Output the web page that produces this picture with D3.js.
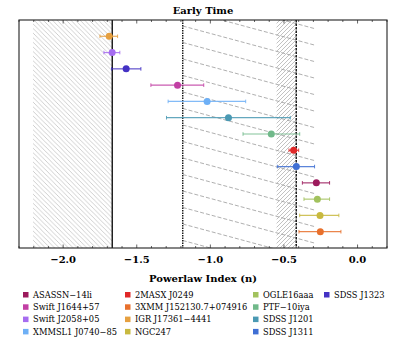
<!DOCTYPE html>
<html>
<head>
<meta charset="utf-8">
<script src="https://cdn.jsdelivr.net/npm/d3@7"></script>
<style>
  body { margin: 0; background: #fff; }
  text { font-family: "DejaVu Serif", "Liberation Serif", serif; }
</style>
</head>
<body>
<div id="vis"></div>
<script>
// sources, top to bottom
const names = ['IGR J17361\u22124441', 'Swift J2058+05', 'SDSS J1323', 'Swift J1644+57',
  'XMMSL1 J0740\u221285', 'SDSS J1201', 'PTF\u221210iya', '2MASX J0249', 'SDSS J1311',
  'ASASSN\u221214li', 'OGLE16aaa', 'NGC247', '3XMM J152130.7+074916']
const index = [-1.687, -1.667, -1.572, -1.223, -1.022, -0.877, -0.586, -0.434, -0.416, -0.280, -0.273, -0.255, -0.253]
const errLow = [-1.750, -1.723, -1.671, -1.404, -1.287, -1.298, -0.778, -0.466, -0.545, -0.375, -0.364, -0.393, -0.398]
const errHigh = [-1.630, -1.615, -1.472, -1.045, -0.760, -0.457, -0.393, -0.400, -0.292, -0.190, -0.190, -0.127, -0.113]
const colors = ['#e6a040', '#a66cf0', '#4432c4', '#c23fa4', '#6eb0f6', '#4a99b3', '#70b98a', '#e02828',
  '#3f6fd4', '#9c1a5c', '#a2c25e', '#c8b93f', '#e8702c']

// legend order (column-major, 4 rows)
const legendNames = ['ASASSN\u221214li', 'Swift J1644+57', 'Swift J2058+05', 'XMMSL1 J0740\u221285',
  '2MASX J0249', '3XMM J152130.7+074916', 'IGR J17361\u22124441', 'NGC247',
  'OGLE16aaa', 'PTF\u221210iya', 'SDSS J1201', 'SDSS J1311', 'SDSS J1323']

// reference lines and shaded ranges
const solidLine = -5 / 3
const dottedLine = -1.1875
const dashedLine = -0.4167
const hatchA = [-2.205, -5 / 3]
const hatchB = [-1.1875, -0.292]
const hatchC = [-0.55, -0.4167]
const majorTicks = [-2.0, -1.5, -1.0, -0.5, 0.0]

const W = 407, H = 341
const m = { left: 19, right: 387, top: 20, bottom: 248 }

const x = d3.scaleLinear().domain([-2.3, 0.2]).range([m.left, m.right])
const y = d3.scaleLinear().domain([0, names.length + 1]).range([m.top, m.bottom])

const svg = d3.select('#vis').append('svg')
  .attr('width', W)
  .attr('height', H)

const defs = svg.append('defs')
defs.append('clipPath').attr('id', 'plot')
  .append('rect')
  .attr('x', m.left).attr('y', m.top)
  .attr('width', m.right - m.left).attr('height', m.bottom - m.top)

const patA = defs.append('pattern').attr('id', 'hatchA')
  .attr('patternUnits', 'userSpaceOnUse')
  .attr('width', 4.6).attr('height', 4.6)
patA.append('path')
  .attr('d', 'M-1,-1 L5.6,5.6 M-1,3.6 L1,5.6 M3.6,-1 L5.6,1')
  .attr('stroke', '#b0b0b0').attr('stroke-width', 0.6)

const patC = defs.append('pattern').attr('id', 'hatchC')
  .attr('patternUnits', 'userSpaceOnUse')
  .attr('width', 4).attr('height', 4)
patC.append('path')
  .attr('d', 'M-1,5 L5,-1 M-1,1 L1,-1 M3,5 L5,3')
  .attr('stroke', '#999').attr('stroke-width', 0.6)

const plot = svg.append('g').attr('clip-path', 'url(#plot)')

plot.append('rect')
  .attr('x', x(hatchA[0])).attr('y', m.top)
  .attr('width', x(hatchA[1]) - x(hatchA[0])).attr('height', m.bottom - m.top)
  .attr('fill', 'url(#hatchA)')

// shallow dashed hatch
const gB = plot.append('g')
const bx0 = x(hatchB[0]), bx1 = x(hatchB[1])
const slope = 0.27
for (let yy = m.top - 60; yy < m.bottom + 5; yy += 16.5) {
  gB.append('line')
    .attr('x1', bx0).attr('y1', yy)
    .attr('x2', bx1).attr('y2', yy + slope * (bx1 - bx0))
    .attr('stroke', '#9a9a9a')
    .attr('stroke-width', 0.8)
    .attr('stroke-dasharray', '4,2')
}

plot.append('rect')
  .attr('x', x(hatchC[0])).attr('y', m.top)
  .attr('width', x(hatchC[1]) - x(hatchC[0])).attr('height', m.bottom - m.top)
  .attr('fill', 'url(#hatchC)')

plot.append('line')
  .attr('x1', x(solidLine)).attr('x2', x(solidLine))
  .attr('y1', m.top).attr('y2', m.bottom)
  .attr('stroke', '#000').attr('stroke-width', 1.3)
plot.append('line')
  .attr('x1', x(dottedLine)).attr('x2', x(dottedLine))
  .attr('y1', m.top).attr('y2', m.bottom)
  .attr('stroke', '#000').attr('stroke-width', 1.3)
  .attr('stroke-dasharray', '1.5,1')
plot.append('line')
  .attr('x1', x(dashedLine)).attr('x2', x(dashedLine))
  .attr('y1', m.top).attr('y2', m.bottom)
  .attr('stroke', '#000').attr('stroke-width', 1.3)
  .attr('stroke-dasharray', '2.5,1')

// error bars
const rows = names.map((n, i) => ({ n, v: index[i], lo: errLow[i], hi: errHigh[i], c: colors[i], r: i + 1 }))
const eb = plot.selectAll('g.eb').data(rows).enter().append('g').attr('class', 'eb')
eb.append('line')
  .attr('x1', d => x(d.lo)).attr('x2', d => x(d.hi))
  .attr('y1', d => y(d.r)).attr('y2', d => y(d.r))
  .attr('stroke', d => d.c).attr('stroke-width', 1.2).attr('opacity', 0.85)
eb.selectAll('line.cap').data(d => [d.lo, d.hi].map(v => ({ v, d }))).enter().append('line')
  .attr('class', 'cap')
  .attr('x1', e => x(e.v)).attr('x2', e => x(e.v))
  .attr('y1', e => y(e.d.r) - 1.8).attr('y2', e => y(e.d.r) + 1.8)
  .attr('stroke', e => e.d.c).attr('stroke-width', 1).attr('opacity', 0.85)
eb.append('circle')
  .attr('cx', d => x(d.v)).attr('cy', d => y(d.r))
  .attr('r', 3.5)
  .attr('fill', d => d.c)

// frame
svg.append('rect')
  .attr('x', m.left).attr('y', m.top)
  .attr('width', m.right - m.left).attr('height', m.bottom - m.top)
  .attr('fill', 'none').attr('stroke', '#222').attr('stroke-width', 1.1)

// ticks (inward, top and bottom)
const minor = d3.range(-23, 3).map(k => k / 10)
const tg = svg.append('g')
for (const t of minor) {
  const major = majorTicks.some(v => Math.abs(v - t) < 1e-9)
  const len = major ? 3.5 : 2
  tg.append('line').attr('x1', x(t)).attr('x2', x(t))
    .attr('y1', m.bottom).attr('y2', m.bottom - len)
    .attr('stroke', '#222').attr('stroke-width', 0.7)
  tg.append('line').attr('x1', x(t)).attr('x2', x(t))
    .attr('y1', m.top).attr('y2', m.top + len)
    .attr('stroke', '#222').attr('stroke-width', 0.7)
}
svg.selectAll('text.tick').data(majorTicks).enter().append('text')
  .attr('class', 'tick')
  .attr('x', d => x(d)).attr('y', 263)
  .attr('text-anchor', 'middle')
  .attr('font-size', 10).attr('font-weight', 'bold')
  .text(d => d3.format('.1f')(d).replace('-', '\u2212'))

svg.append('text')
  .attr('x', (m.left + m.right) / 2).attr('y', 14)
  .attr('text-anchor', 'middle')
  .attr('font-size', 10).attr('font-weight', 'bold')
  .text('Early Time')

svg.append('text')
  .attr('x', (m.left + m.right) / 2).attr('y', 282)
  .attr('text-anchor', 'middle')
  .attr('font-size', 10).attr('font-weight', 'bold')
  .text('Powerlaw Index (n)')

// legend
const colX = [23, 125, 253, 324]
const legend = svg.append('g')
legendNames.forEach((n, i) => {
  const col = Math.floor(i / 4), row = i % 4
  const c = colors[names.indexOf(n)]
  const gx = colX[col], gy = 295 + row * 12.3
  legend.append('rect')
    .attr('x', gx).attr('y', gy - 3).attr('width', 5.5).attr('height', 5.5)
    .attr('fill', c)
  legend.append('text')
    .attr('x', gx + 10).attr('y', gy + 2.7)
    .attr('font-size', 8.3)
    .text(n)
})
</script>
</body>
</html>
